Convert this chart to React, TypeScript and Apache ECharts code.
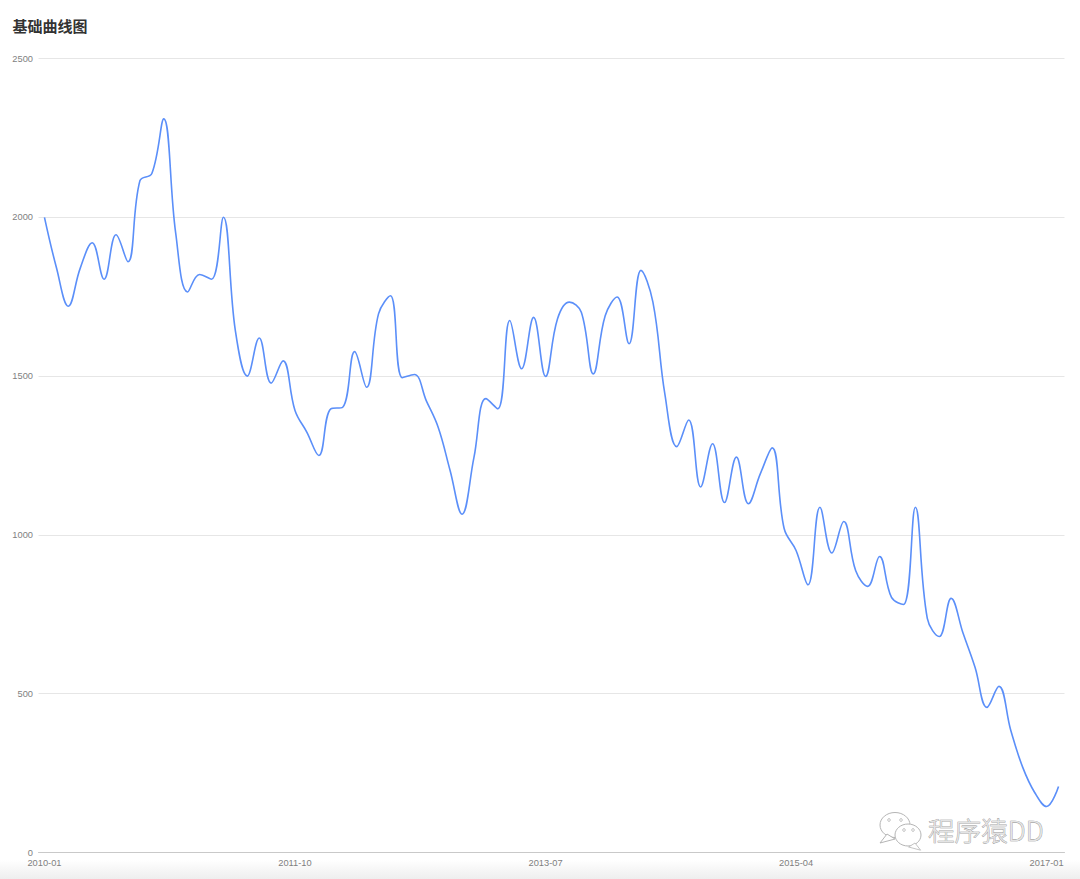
import React, { useEffect, useRef } from "react";
import * as echarts from "echarts";

const titleText = "基础曲线图";
const watermarkText = "程序猿DD";
const months = [
  "2010-01","2010-02","2010-03","2010-04","2010-05","2010-06","2010-07","2010-08","2010-09","2010-10","2010-11","2010-12",
  "2011-01","2011-02","2011-03","2011-04","2011-05","2011-06","2011-07","2011-08","2011-09","2011-10","2011-11","2011-12",
  "2012-01","2012-02","2012-03","2012-04","2012-05","2012-06","2012-07","2012-08","2012-09","2012-10","2012-11","2012-12",
  "2013-01","2013-02","2013-03","2013-04","2013-05","2013-06","2013-07","2013-08","2013-09","2013-10","2013-11","2013-12",
  "2014-01","2014-02","2014-03","2014-04","2014-05","2014-06","2014-07","2014-08","2014-09","2014-10","2014-11","2014-12",
  "2015-01","2015-02","2015-03","2015-04","2015-05","2015-06","2015-07","2015-08","2015-09","2015-10","2015-11","2015-12",
  "2016-01","2016-02","2016-03","2016-04","2016-05","2016-06","2016-07","2016-08","2016-09","2016-10","2016-11","2016-12",
  "2017-01","2017-02",
];
const values = [
  2000,1842,1720,1840,1920,1805,1945,1860,2115,2138,2310,1950,
  1765,1820,1805,2000,1643,1500,1620,1478,1548,1392,1323,1250,
  1397,1402,1577,1465,1696,1753,1495,1505,1423,1339,1203,1065,
  1244,1429,1397,1675,1523,1685,1499,1680,1733,1701,1507,1690,
  1749,1602,1833,1733,1444,1278,1362,1151,1287,1102,1245,1098,
  1192,1274,1020,951,843,1087,943,1042,887,838,932,803,
  781,1087,737,680,800,690,583,457,523,384,268,189,
  145,208,
];

echarts.graphic.registerShape(
  "bubbleTail",
  echarts.graphic.extendPath("M0 0 L-7 9 L8 5 Z", {})
);

const baseFont = "'Liberation Sans', Arial, sans-serif";
const ink = { fill: "#fff", stroke: "#b5b5b5", lineWidth: 1 };
const dot = { fill: "#fff", stroke: "#a8a8a8", lineWidth: 0.8 };

export default function App() {
  const ref = useRef<HTMLDivElement>(null);
  useEffect(() => {
    document.body.style.margin = "0";
    const chart = echarts.init(ref.current!, undefined, { renderer: "svg" });
    chart.setOption({
      animation: false,
      backgroundColor: "#fff",
      title: {
        text: titleText,
        left: 7.5,
        top: 13,
        textStyle: { fontFamily: "'Noto Sans CJK SC'", fontSize: 15, fontWeight: "bold", color: "#333" },
      },
      grid: { left: 38.5, right: 15.5, top: 58.5, bottom: 26.5, containLabel: false },
      xAxis: {
        type: "category",
        data: months,
        boundaryGap: true,
        axisLine: { lineStyle: { color: "#c9c9c9", width: 1 } },
        axisTick: { interval: 20, alignWithLabel: true, length: 3, lineStyle: { color: "#c9c9c9" } },
        axisLabel: { interval: 20, fontFamily: baseFont, fontSize: 9.3, color: "#7f7f7f", margin: 6, hideOverlap: false },
        splitLine: { show: false },
      },
      yAxis: {
        type: "value",
        min: 0,
        max: 2500,
        interval: 500,
        axisLine: { show: false },
        axisTick: { show: false },
        axisLabel: { fontFamily: baseFont, fontSize: 9.3, color: "#7f7f7f", margin: 5.5, formatter: (v: number) => String(v) },
        splitLine: { lineStyle: { color: "#e6e6e6", width: 1 } },
      },
      series: [
        {
          type: "line",
          data: values,
          smooth: 0.4,
          showSymbol: false,
          lineStyle: { color: "#5B8FF9", width: 1.6 },
        },
      ],
      graphic: [
        {
          type: "rect",
          silent: true,
          shape: { x: 0, y: 860, width: 1080, height: 19 },
          style: {
            fill: new echarts.graphic.LinearGradient(0, 0, 0, 1, [
              { offset: 0, color: "#ffffff" },
              { offset: 1, color: "#eeeeee" },
            ]),
          },
          z: -1,
        },
        {
          type: "group",
          silent: true,
          z: 100,
          children: [
            { type: "ellipse", shape: { cx: 895, cy: 825, rx: 15, ry: 12.5 }, style: ink },
            { type: "bubbleTail", x: 887, y: 834, style: ink },
            { type: "circle", shape: { cx: 889, cy: 820, r: 1.3 }, style: dot },
            { type: "circle", shape: { cx: 901, cy: 820, r: 1.3 }, style: dot },
            { type: "ellipse", shape: { cx: 908, cy: 835, rx: 13, ry: 11 }, style: ink },
            { type: "bubbleTail", x: 915, y: 843, scaleX: -0.8, scaleY: 0.8, style: ink },
            { type: "circle", shape: { cx: 904, cy: 830, r: 1.3 }, style: dot },
            { type: "circle", shape: { cx: 913, cy: 830, r: 1.3 }, style: dot },
            {
              type: "text",
              x: 928,
              y: 816,
              style: {
                text: watermarkText,
                fontFamily: "'Noto Sans CJK SC', 'Liberation Sans'",
                fontSize: 26.6,
                fontWeight: 300,
                fill: "#e4e4e4",
                stroke: "#8f8f8f",
                lineWidth: 0.7,
              },
            },
          ],
        },
      ],
    });
    return () => chart.dispose();
  }, []);
  return <div ref={ref} style={{ width: 1080, height: 879 }} />;
}
